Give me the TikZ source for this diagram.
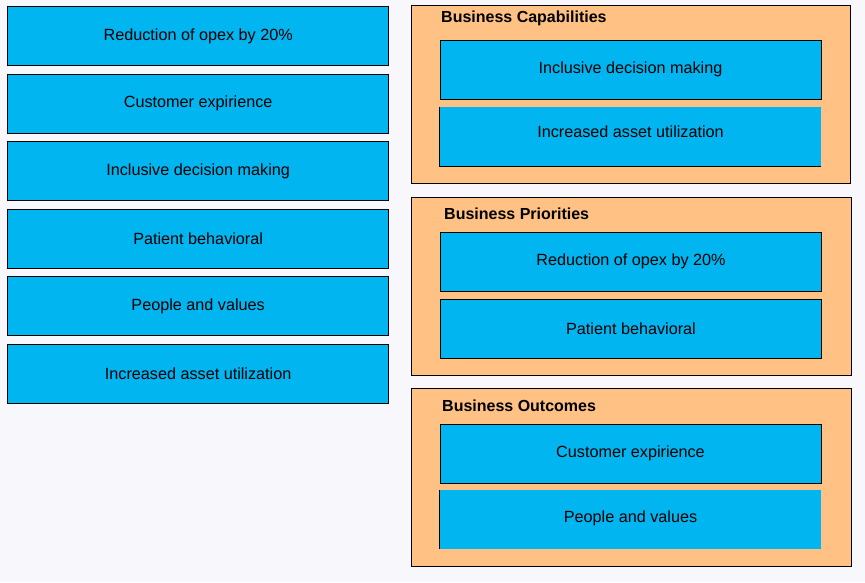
\documentclass[tikz,border=0pt]{standalone}
\usepackage{fontspec}
\setmainfont{Liberation Sans}
\usetikzlibrary{matrix}
\definecolor{slotblue}{HTML}{00B5F0}
\definecolor{panelorange}{HTML}{FFC184}
\definecolor{pagebg}{HTML}{F8F8FC}
\tikzstyle{slot} = [draw=black,line width=0.9pt,fill=slotblue,minimum width=381pt,minimum height=59pt,inner sep=0pt,font=\fontsize{16.2}{19}\selectfont]
\tikzstyle{slotopen} = [slot,draw=none]
\tikzstyle{panel} = [draw=black,line width=0.9pt,fill=panelorange,anchor=north west,inner sep=0pt]
\tikzstyle{paneltitle} = [anchor=north west,inner sep=0pt,font=\fontsize{16}{19}\bfseries\selectfont]

\begin{document}
\begin{tikzpicture}[x=1pt,y=-1pt]
	\fill[pagebg] (0,0) rectangle (865,582);
	\useasboundingbox (0,0) rectangle (865,582);
	% choices on the left
	\matrix[matrix of nodes,
	nodes={slot},
	inner sep=0pt,
	row sep=7.6pt,
	anchor=north west]
	(L) at (7,6)
	{
		Reduction of opex by 20\% \\
		Customer expirience \\
		Inclusive decision making \\
		Patient behavioral \\
		People and values \\
		Increased asset utilization \\
	};
	% panels on the right
	\node[panel,minimum width=439pt,minimum height=178pt] (cap) at (411,5) {};
	\node[paneltitle] (capT) at (441,11) {Business Capabilities};
	\node[slot,text depth=4pt] (cap1) at (630.5,69.5) {Inclusive decision making};
	\node[slotopen,text depth=9pt] (cap2) at (630.5,136.5) {Increased asset utilization};
	\draw[line width=1.2pt] (cap2.north west) -- (cap2.south west) -- (cap2.south east);

	\node[panel,minimum width=440pt,minimum height=178pt] (pri) at (411,197) {};
	\node[paneltitle] (priT) at (444,208) {Business Priorities};
	\node[slot,text depth=3pt] (pri1) at (631,261.5) {Reduction of opex by 20\%};
	\node[slot] (pri2) at (631,328.5) {Patient behavioral};

	\node[panel,minimum width=440pt,minimum height=178pt] (out) at (411,388) {};
	\node[paneltitle] (outT) at (442,400) {Business Outcomes};
	\node[slot,text depth=4pt] (out1) at (630.5,453.5) {Customer expirience};
	\node[slotopen,text depth=6pt] (out2) at (630.5,519.5) {People and values};
	\draw[line width=1.2pt] (out2.north west) -- (out2.south west);
\end{tikzpicture}
\end{document}
